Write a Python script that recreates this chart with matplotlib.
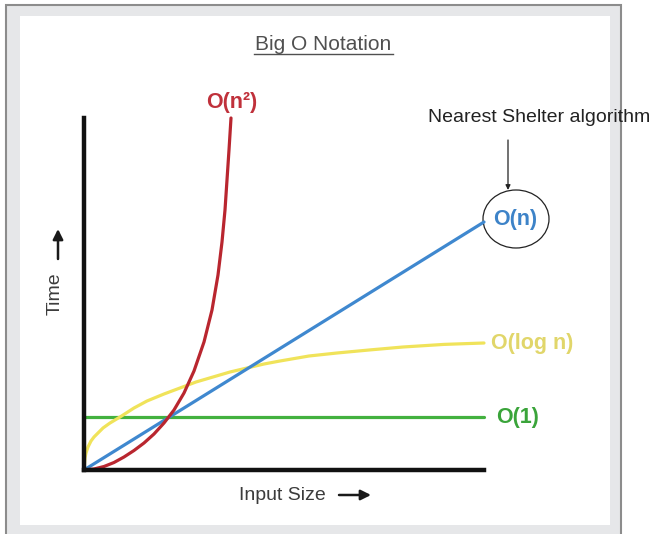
import matplotlib
matplotlib.use("Agg")
import matplotlib.pyplot as plt
import matplotlib.patches as patches
from matplotlib.lines import Line2D

plt.rcParams['font.family'] = ['Liberation Sans', 'DejaVu Sans']

W, H = 649, 534

# curves (input size n, time)
n_line = [0, 10]
const_time = [1.325, 1.325]
linear_time = [0, 6.2]

log_n = [0, 0.025, 0.05, 0.1, 0.175, 0.25, 0.35, 0.475, 0.65, 0.9, 1.25, 1.575, 2.0, 2.4,
         2.8, 3.225, 3.65, 4.075, 4.5, 4.9, 5.625, 6.325, 7.125, 7.975, 9.0, 10.0]
log_time = [0, 0.3, 0.425, 0.575, 0.725, 0.825, 0.925, 1.05, 1.175, 1.325, 1.55, 1.725, 1.9, 2.05,
            2.2, 2.325, 2.45, 2.55, 2.65, 2.725, 2.85, 2.925, 3.0, 3.075, 3.14, 3.175]

sq_n = [0, 0.25, 0.5, 0.75, 1.0, 1.25, 1.5, 1.75, 2.0, 2.25, 2.5, 2.75, 3.0, 3.2,
        3.35, 3.45, 3.525, 3.575, 3.625, 3.675]
sq_time = [0, 0.025, 0.0875, 0.1875, 0.325, 0.4875, 0.675, 0.9, 1.175, 1.5, 1.925, 2.475, 3.2, 4.0,
           4.875, 5.7, 6.5, 7.25, 8.0, 8.8]

colors = {"O(1)": "#43b13f", "O(n)": "#3f88cf", "O(log n)": "#f0e35a", "O(n²)": "#b9262f"}
label_colors = {"O(1)": "#3aa43a", "O(n)": "#3d83c8", "O(log n)": "#e1d66a", "O(n²)": "#c0313b"}


def fx(px):
    return px / W


def fy(py):
    return 1 - py / H


fig = plt.figure(figsize=(W / 100, H / 100), dpi=100)
fig.patch.set_facecolor("white")

# screenshot frame, kept behind everything else
frame = patches.Rectangle((fx(6), fy(540)), fx(621) - fx(6), fy(5) - fy(540),
                          transform=fig.transFigure, facecolor="#e6e7e9",
                          edgecolor="#8c8c8c", linewidth=1.5, zorder=-2)
inner = patches.Rectangle((fx(20), fy(525)), fx(610) - fx(20), fy(16) - fy(525),
                          transform=fig.transFigure, facecolor="white",
                          edgecolor="none", zorder=-1)
fig.patches.extend([frame, inner])

ax = fig.add_axes([fx(84), fy(470), fx(484) - fx(84), fy(118) - fy(470)])
ax.set_zorder(3)
ax.set_xlim(0, 10)
ax.set_ylim(0, 8.8)
ax.patch.set_alpha(0)
for side in ["top", "right"]:
    ax.spines[side].set_visible(False)
for side in ["left", "bottom"]:
    ax.spines[side].set_linewidth(3.2)
    ax.spines[side].set_color("#111111")
    ax.spines[side].set_capstyle("projecting")
ax.set_xticks([])
ax.set_yticks([])

lw = 2.3
line_kw = dict(lw=lw, clip_on=False, solid_joinstyle="round", solid_capstyle="round")
ax.plot(n_line, const_time, color=colors["O(1)"], **line_kw)
ax.plot(log_n, log_time, color=colors["O(log n)"], **line_kw)
ax.plot(n_line, linear_time, color=colors["O(n)"], **line_kw)
ax.plot(sq_n, sq_time, color=colors["O(n²)"], **line_kw)

lab_kw = dict(fontsize=15.5, fontweight="bold", va="center", clip_on=False)
ax.text(n_line[-1] + 0.3, const_time[-1], "O(1)", color=label_colors["O(1)"], ha="left", **lab_kw)
ax.text(log_n[-1] + 0.17, log_time[-1], "O(log n)", color=label_colors["O(log n)"], ha="left", **lab_kw)
ax.text(n_line[-1] + 0.23, linear_time[-1] + 0.07, "O(n)", color=label_colors["O(n)"], ha="left", **lab_kw)
ax.text(sq_n[-1] + 0.02, sq_time[-1] + 0.38, "O(n²)", color=label_colors["O(n²)"], ha="center", **lab_kw)

# highlight around O(n)
ax.add_patch(patches.Ellipse((10.8, 6.275), 1.65, 1.45, facecolor="none",
                             edgecolor="#222222", linewidth=0.9, clip_on=False))
ax.annotate("", xy=(10.6, 7.0), xytext=(10.6, 8.25),
            arrowprops=dict(arrowstyle="-|>", color="#222222", lw=0.9,
                            mutation_scale=7, shrinkA=0, shrinkB=0),
            annotation_clip=False)
ax.text(8.6, 8.8, "Nearest Shelter algorithm", fontsize=14, color="#222222",
        ha="left", va="center", clip_on=False)

# title with underline
fig.text(fx(323), fy(44), "Big O Notation", fontsize=15, color="#505050",
         ha="center", va="center")
fig.add_artist(Line2D([fx(254), fx(393)], [fy(54), fy(54)], color="#505050",
                      lw=1.0, transform=fig.transFigure))

# axis titles with their arrows
fig.text(fx(282), fy(495), "Input Size", fontsize=14, color="#3c3c3c",
         ha="center", va="center")
fig.text(fx(55), fy(294), "Time", fontsize=14, color="#3c3c3c",
         ha="center", va="center", rotation=90)
arrow_kw = dict(arrowstyle="-|>,head_length=0.5,head_width=0.25", color="#1a1a1a",
                lw=1.8, mutation_scale=12, shrinkA=0, shrinkB=0)
fig.add_artist(patches.FancyArrowPatch((fx(339), fy(495)), (fx(371), fy(495)),
                                       transform=fig.transFigure, **arrow_kw))
fig.add_artist(patches.FancyArrowPatch((fx(58), fy(259)), (fx(58), fy(229)),
                                       transform=fig.transFigure, **arrow_kw))

fig.savefig("out.png", dpi=100)
